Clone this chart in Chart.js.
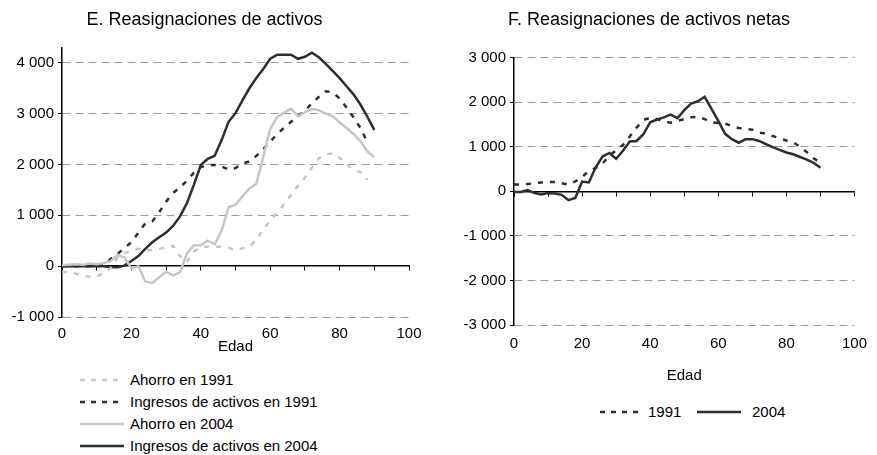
<!DOCTYPE html>
<html>
<head>
<meta charset="UTF-8">
<title>Reasignaciones de activos</title>
<script src="https://cdn.jsdelivr.net/npm/chart.js@4.4.1/dist/chart.umd.min.js"></script>
<style>
  body { margin: 0; background: #fff; }
  #wrap { position: relative; width: 877px; height: 455px; font-family: "Liberation Sans", Arial, sans-serif; color: #000; }
  .box { position: absolute; top: 0; }
  #boxE { left: 0; width: 440px; height: 365px; }
  #boxF { left: 440px; width: 437px; height: 395px; }
  .leg { position: absolute; font-size: 15px; line-height: 22px; white-space: nowrap; }
  .leg svg { position: absolute; top: 8px; }
  .leg span { position: absolute; top: 0; }
</style>
</head>
<body>
<div id="wrap">
  <div class="box" id="boxE"><canvas id="chartE"></canvas></div>
  <div class="box" id="boxF"><canvas id="chartF"></canvas></div>
  <div id="legE"></div>
  <div id="legF"></div>
</div>
<script>
// edades cada 2 años, 0..90
const edades = [0,2,4,6,8,10,12,14,16,18,20,22,24,26,28,30,32,34,36,38,40,42,44,46,48,50,52,54,56,58,60,62,64,66,68,70,72,74,76,78,80,82,84,86,88,90];

// E. Reasignaciones de activos
const ahorro1991 = [-110,-120,-150,-180,-210,-200,-140,-40,170,260,310,340,310,320,340,370,400,200,80,290,370,380,380,380,360,320,350,380,520,720,900,1050,1220,1400,1580,1740,1940,2120,2200,2220,2130,2010,1890,1850,1700,null];
const ingresos1991 = [0,0,0,0,0,0,20,140,240,360,470,660,840,880,1060,1270,1440,1550,1680,1840,1950,1990,1990,1960,1900,1930,2020,2060,2170,2300,2450,2600,2720,2840,2950,3060,3200,3330,3440,3420,3300,3120,2930,2720,2440,null];
const ahorro2004 = [20,30,40,30,50,40,60,100,220,170,-40,0,-300,-330,-220,-110,-180,-120,250,410,410,500,430,700,1160,1210,1370,1530,1620,2150,2700,2930,3020,3100,2950,3030,3090,3070,3000,2950,2830,2720,2600,2460,2260,2140];
const ingresos2004 = [0,0,0,0,0,0,0,-20,-20,10,100,200,340,470,570,660,790,980,1240,1600,1990,2110,2170,2480,2840,3010,3260,3500,3700,3880,4080,4160,4160,4160,4080,4120,4200,4110,3980,3840,3700,3540,3380,3180,2940,2680];

// F. Reasignaciones de activos netas
const netas1991 = [150,150,165,180,200,210,210,180,150,220,320,460,520,620,800,920,1040,1230,1430,1600,1650,1620,1570,1540,1580,1620,1660,1670,1620,1550,1530,1520,1460,1420,1400,1380,1320,1290,1240,1190,1140,1100,1000,880,740,640];
const netas2004 = [-15,-15,30,-40,-70,-40,-50,-80,-200,-150,220,200,540,780,860,730,910,1120,1130,1280,1550,1610,1660,1720,1640,1820,1970,2020,2120,1850,1580,1290,1170,1090,1170,1170,1130,1060,990,930,870,830,770,710,640,530];

const ticksE = [-1000,0,1000,2000,3000,4000];
const ticksF = [-3000,-2000,-1000,0,1000,2000,3000];
const ticksEdad = [0,20,40,60,80,100];

const titleE = 'E. Reasignaciones de activos';
const titleF = 'F. Reasignaciones de activos netas';
const ejeX = 'Edad';
const nombresE = ['Ahorro en 1991','Ingresos de activos en 1991','Ahorro en 2004','Ingresos de activos en 2004'];
const nombresF = ['1991','2004'];

const FONT = '"Liberation Sans", Arial, sans-serif';
const OSCURO = '#2e2e2e';
const CLARO = '#c6c6c6';
const DASH = [5,7];

function fmt(v){
  const s = String(Math.abs(v)).replace(/\B(?=(\d{3})+(?!\d))/g,' ');
  return (v < 0 ? '-' : '') + s;
}
function pts(vals){
  return edades.map((e,i) => ({x: e, y: vals[i]}));
}
function serie(label, vals, color, dashed){
  return {
    label: label, data: pts(vals),
    borderColor: color, backgroundColor: color,
    borderWidth: 2.5, borderDash: dashed ? DASH : [],
    pointRadius: 0, tension: 0, fill: false
  };
}

function opciones(titulo, yMin, yMax, yTicks, yWidth, xHeight, padTitle, padRight, tickPad, titlePad){
  return {
    responsive: true, maintainAspectRatio: false, animation: false,
    layout: {padding: {left: 0, right: padRight, top: 0, bottom: 0}},
    plugins: {
      legend: {display: false},
      tooltip: {enabled: false},
      title: {display: true, text: titulo, color: '#000',
        font: {family: FONT, size: 18, weight: 'normal'},
        padding: {top: 9, bottom: padTitle}}
    },
    scales: {
      x: {
        type: 'linear', min: 0, max: 100, position: 'bottom',
        afterBuildTicks: s => { s.ticks = ticksEdad.map(v => ({value: v})); },
        afterFit: s => { s.height = xHeight; },
        grid: {display: false, drawTicks: false},
        border: {display: false},
        ticks: {color: '#000', padding: tickPad, font: {family: FONT, size: 15}, maxRotation: 0},
        title: {display: true, text: ejeX, color: '#000',
          font: {family: FONT, size: 15}, padding: {top: 0, bottom: titlePad}}
      },
      x0: {
        type: 'linear', min: 0, max: 100, position: {y: 0},
        afterFit: s => { s.height = 0; },
        ticks: {display: false, stepSize: 10},
        grid: {display: true, drawOnChartArea: false, drawTicks: true, tickLength: 4,
          color: '#000', tickColor: '#000', tickWidth: 1},
        border: {display: true, color: '#000', width: 1.5}
      },
      y: {
        type: 'linear', min: yMin, max: yMax,
        afterBuildTicks: s => { s.ticks = yTicks.map(v => ({value: v})); },
        afterFit: s => { s.width = yWidth; },
        grid: {
          color: c => (c.tick && c.tick.value === 0) ? 'rgba(0,0,0,0)' : '#9a9a9a',
          lineWidth: 1, drawTicks: true, tickLength: 4, tickColor: '#000', tickWidth: 1
        },
        border: {display: true, color: '#000', width: 1.5, dash: [8,5]},
        ticks: {color: '#000', padding: 4, font: {family: FONT, size: 15}, callback: v => fmt(v)}
      }
    }
  };
}

new Chart(document.getElementById('chartE'), {
  type: 'line',
  data: {datasets: [
    serie(nombresE[0], ahorro1991, CLARO, true),
    serie(nombresE[2], ahorro2004, CLARO, false),
    serie(nombresE[1], ingresos1991, OSCURO, true),
    serie(nombresE[3], ingresos2004, OSCURO, false)
  ]},
  options: opciones(titleE, -1000, 4300, ticksE, 62, 48, 17, 31, 8, 9)
});

new Chart(document.getElementById('chartF'), {
  type: 'line',
  data: {datasets: [
    serie(nombresF[0], netas1991, OSCURO, true),
    serie(nombresF[1], netas2004, OSCURO, false)
  ]},
  options: opciones(titleF, -3000, 3000, ticksF, 74, 70, 27, 19, 10, 10)
});

// leyendas en HTML
function muestra(color, dashed){
  const d = dashed ? ' stroke-dasharray="5 6"' : '';
  return '<svg width="44" height="6"><line x1="0" y1="3" x2="44" y2="3" stroke="' + color +
    '" stroke-width="2.5"' + d + '/></svg>';
}
const legE = document.getElementById('legE');
const estilosE = [[CLARO,true],[OSCURO,true],[CLARO,false],[OSCURO,false]];
nombresE.forEach((n,i) => {
  const d = document.createElement('div');
  d.className = 'leg';
  d.style.left = '80px';
  d.style.top = (369 + i*22) + 'px';
  d.innerHTML = muestra(estilosE[i][0], estilosE[i][1]) + '<span style="left:50px">' + n + '</span>';
  legE.appendChild(d);
});
const legF = document.getElementById('legF');
[[600, OSCURO, true, 648],[697, OSCURO, false, 752]].forEach((p,i) => {
  const d = document.createElement('div');
  d.className = 'leg';
  d.style.left = p[0] + 'px';
  d.style.top = '401px';
  d.innerHTML = muestra(p[1], p[2]) + '<span style="left:' + (p[3]-p[0]) + 'px">' + nombresF[i] + '</span>';
  legF.appendChild(d);
});
</script>
</body>
</html>
